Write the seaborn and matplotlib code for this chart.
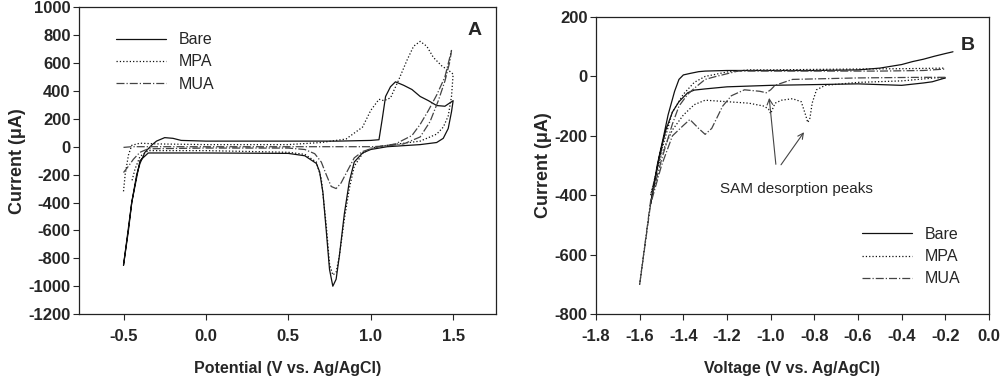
import pandas as pd
import seaborn as sns
import matplotlib.pyplot as plt

# Panel A: cyclic voltammograms (potential in V, current in uA)
a_bare_x = [-0.5, -0.47, -0.45, -0.42, -0.4, -0.37, -0.33, -0.3, -0.25, -0.2, -0.15, 0.0, 0.5, 0.8, 1.0, 1.05,
            1.07, 1.09, 1.12, 1.15, 1.2, 1.25, 1.3, 1.35, 1.4, 1.45, 1.5,
            1.49, 1.47, 1.44, 1.4, 1.3, 1.1, 1.0, 0.95, 0.9, 0.87, 0.84, 0.81, 0.79, 0.77, 0.75, 0.73, 0.71,
            0.69, 0.67, 0.6, 0.5, 0.0, -0.35, -0.4, -0.45, -0.5]
a_bare_y = [-850, -600, -400, -200, -120, -40, 10, 40, 65, 60, 45, 40, 40, 40, 45, 50,
            200, 360, 430, 465, 440, 410, 360, 330, 295, 290, 330,
            250, 130, 60, 30, 15, 0, -20, -45, -110, -250, -480, -780, -950, -1000, -880, -600, -330,
            -180, -120, -65, -48, -45, -45, -100, -400, -850]

a_mpa_x = [-0.5, -0.49, -0.47, -0.45, -0.4, -0.3, 0.0, 0.5, 0.7, 0.85, 0.95, 1.0, 1.05, 1.08, 1.12,
           1.17, 1.22, 1.26, 1.3, 1.34, 1.38, 1.43, 1.48, 1.5,
           1.49, 1.47, 1.44, 1.4, 1.3, 1.1, 1.0, 0.95, 0.9, 0.87, 0.84, 0.81, 0.79, 0.77, 0.75, 0.73,
           0.7, 0.67, 0.6, 0.5, 0.0, -0.35, -0.4, -0.43, -0.45]
a_mpa_y = [-320, -200, -60, 10, 25, 20, 15, 15, 30, 55, 140, 260, 340, 330, 350,
           480, 620, 720, 755, 720, 640, 580, 540, 520,
           360, 220, 140, 90, 40, 10, -10, -50, -140, -300, -520, -780, -900, -920, -840, -560,
           -230, -110, -55, -40, -28, -28, -70, -160, -250]

a_mua_x = [-0.5, -0.45, -0.4, 0.0, 0.5, 1.0, 1.1, 1.2, 1.3, 1.36, 1.41, 1.45, 1.48, 1.49,
           1.45, 1.4, 1.35, 1.3, 1.25, 1.15, 1.05, 1.0, 0.95, 0.9, 0.86, 0.82, 0.79, 0.76, 0.73, 0.7,
           0.66, 0.6, 0.5, 0.0, -0.35, -0.4, -0.44, -0.47, -0.5]
a_mua_y = [-5, 0, 0, 0, 0, 0, 5, 20, 70, 180, 330, 470, 610, 690,
           500, 370, 260, 160, 80, 20, 0, -15, -35, -80, -170, -260, -300, -285, -200, -110,
           -50, -20, -10, -10, -15, -40, -90, -140, -185]

# Panel B: reductive desorption scans (voltage in V, current in uA)
b_bare_x = [-0.2, -0.26, -0.3, -0.4, -0.6, -1.0, -1.2, -1.3, -1.35, -1.38, -1.42, -1.45, -1.48,
            -1.51, -1.55, -1.52, -1.49, -1.47, -1.44, -1.42, -1.4, -1.37, -1.33, -1.3, -1.2, -1.1, -1.0,
            -0.8, -0.6, -0.5, -0.4, -0.35, -0.3, -0.25, -0.2, -0.165]
b_bare_y = [-5, -18, -22, -30, -25, -30, -35, -42, -46, -55, -85, -120, -180,
            -270, -430, -300, -200, -130, -50, -10, 5, 10, 16, 18, 20, 20, 20,
            20, 22, 28, 40, 50, 58, 68, 77, 83]

b_mpa_x = [-0.2, -0.25, -0.4, -0.6, -0.75, -0.79, -0.81, -0.82, -0.83, -0.84, -0.86, -0.9, -0.95,
           -0.98, -1.0, -1.01, -1.03, -1.1, -1.2, -1.3, -1.35, -1.4, -1.45, -1.5, -1.55,
           -1.5, -1.45, -1.4, -1.35, -1.3, -1.2, -1.1, -1.0, -0.6, -0.4, -0.2]
b_mpa_y = [-5, -5, -15, -20, -30, -45, -90, -140, -155, -130, -85, -75, -80,
           -90, -125, -110, -100, -90, -85, -80, -95, -130, -180, -260, -400,
           -250, -120, -60, -20, 0, 15, 22, 22, 25, 26, 28]

b_mua_x = [-0.2, -0.3, -0.6, -0.9, -0.98, -1.0, -1.02, -1.05, -1.12, -1.18, -1.22, -1.27, -1.3,
           -1.33, -1.37, -1.4, -1.45, -1.5, -1.55, -1.6,
           -1.55, -1.5, -1.45, -1.42, -1.38, -1.35, -1.3, -1.25, -1.15, -1.0, -0.5, -0.3, -0.2]
b_mua_y = [-3, -3, -5, -10, -30, -45, -55, -50, -45, -65, -100, -175, -195,
           -175, -145, -165, -200, -300, -430, -700,
           -420, -280, -160, -100, -60, -40, -10, 0, 18, 18, 18, 20, 25]


def draw_loop(ax, xs, ys, style, color, label):
    df = pd.DataFrame({'x': xs, 'y': ys})
    sns.lineplot(data=df, x='x', y='y', sort=False, estimator=None, ax=ax,
                 color=color, linestyle=style, linewidth=0.9, label=label)


sns.set_style('ticks')
plt.rcParams['font.family'] = ['Liberation Sans', 'DejaVu Sans']
plt.rcParams['axes.unicode_minus'] = False

fig = plt.figure(figsize=(10, 3.78), dpi=100)
ax_a = fig.add_axes([0.079, 0.169, 0.417, 0.812])
ax_b = fig.add_axes([0.596, 0.169, 0.393, 0.786])

draw_loop(ax_a, a_bare_x, a_bare_y, '-', '#111111', 'Bare')
draw_loop(ax_a, a_mpa_x, a_mpa_y, ':', '#111111', 'MPA')
draw_loop(ax_a, a_mua_x, a_mua_y, '-.', '#444444', 'MUA')

draw_loop(ax_b, b_bare_x, b_bare_y, '-', '#111111', 'Bare')
draw_loop(ax_b, b_mpa_x, b_mpa_y, ':', '#111111', 'MPA')
draw_loop(ax_b, b_mua_x, b_mua_y, '-.', '#444444', 'MUA')

ax_a.set_xlim(-0.77, 1.76)
ax_a.set_ylim(-1200, 1000)
ax_a.set_xticks([-0.5, 0.0, 0.5, 1.0, 1.5])
ax_a.set_xticklabels(['-0.5', '0.0', '0.5', '1.0', '1.5'])
ax_a.set_yticks(range(-1200, 1001, 200))
ax_a.set_xlabel('Potential (V vs. Ag/AgCl)', fontsize=11.5, fontweight='bold', labelpad=12)
ax_a.set_ylabel('Current (\u03bcA)', fontsize=13, fontweight='bold', labelpad=2)
ax_a.text(0.965, 0.925, 'A', transform=ax_a.transAxes, fontsize=14, fontweight='bold',
          ha='right', va='center')
ax_a.legend(loc='upper left', bbox_to_anchor=(0.055, 0.965), frameon=False, fontsize=11.5,
            handlelength=3.1, handletextpad=0.8, labelspacing=0.45)

ax_b.set_xlim(-1.8, 0.0)
ax_b.set_ylim(-800, 200)
ax_b.set_xticks([-1.8, -1.6, -1.4, -1.2, -1.0, -0.8, -0.6, -0.4, -0.2, 0.0])
ax_b.set_xticklabels(['-1.8', '-1.6', '-1.4', '-1.2', '-1.0', '-0.8', '-0.6', '-0.4', '-0.2', '0.0'])
ax_b.set_yticks(range(-800, 201, 200))
ax_b.set_xlabel('Voltage (V vs. Ag/AgCl)', fontsize=11.5, fontweight='bold', labelpad=12)
ax_b.set_ylabel('Current (\u03bcA)', fontsize=13, fontweight='bold', labelpad=2)
ax_b.text(0.965, 0.905, 'B', transform=ax_b.transAxes, fontsize=14, fontweight='bold',
          ha='right', va='center')
ax_b.legend(loc='lower right', bbox_to_anchor=(0.963, 0.045), frameon=False, fontsize=11.5,
            handlelength=3.1, handletextpad=0.8, labelspacing=0.45)

ax_b.text(-0.88, -380, 'SAM desorption peaks', fontsize=11, ha='center', va='center')
arrow = dict(arrowstyle='->', color='#444444', lw=0.8)
ax_b.annotate('', xy=(-1.008, -63), xytext=(-0.975, -305), arrowprops=arrow)
ax_b.annotate('', xy=(-0.84, -180), xytext=(-0.96, -305), arrowprops=arrow)

for ax in (ax_a, ax_b):
    for s in ax.spines.values():
        s.set_visible(True)
        s.set_linewidth(0.9)
        s.set_color('#222222')
    ax.tick_params(direction='out', length=4, width=0.8, labelsize=12)
    ax.tick_params(axis='x', pad=7)
    ax.tick_params(axis='y', pad=2)
    for lbl in ax.get_xticklabels() + ax.get_yticklabels():
        lbl.set_fontweight('bold')

plt.savefig('out.png', dpi=100)
